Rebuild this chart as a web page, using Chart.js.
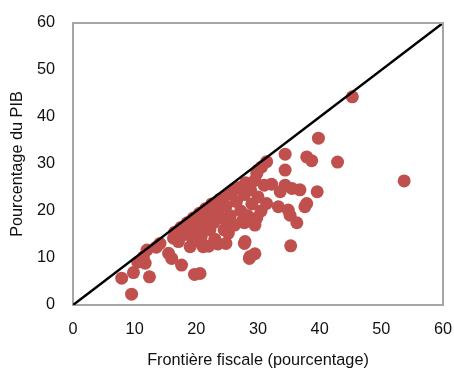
<!DOCTYPE html>
<html>
<head>
<meta charset="utf-8">
<script src="https://cdn.jsdelivr.net/npm/chart.js@4.4.1/dist/chart.umd.min.js"></script>
<style>
  html, body { margin: 0; padding: 0; background: #ffffff; }
  #wrap { width: 454px; height: 369px; position: relative; }
</style>
</head>
<body>
<div id="wrap"><canvas id="chart" width="454" height="369"></canvas></div>
<script>
// Fiscal frontier (x) against revenue collected (y), both in percent of GDP
const frontierX = [
  45.3, 53.7, 42.9, 39.8, 39.6, 37.9, 38.7, 34.4, 34.4, 32.2,
  34.4, 35.5, 36.8, 33.6, 31.4, 33.3, 34.9, 37.9, 37.6, 35.2,
  36.3, 29.5, 27.8, 25.2, 25.2, 24.8, 27.8, 35.3, 29.5, 28.6,
  20.6, 21.1, 22.2, 31.4, 30.6, 30.0, 9.5, 7.9, 9.8, 12.4,
  11.7, 12.0, 14.1, 16.3, 17.1, 15.5, 16.0, 17.6, 19.7, 19.0,
  21.1, 20.1, 27.4, 27.9, 28.7, 11.4, 10.5, 13.5,
  16.5, 17.5, 18.2, 18.5, 19.0, 19.5, 20.0, 20.5, 20.8, 21.0,
  21.5, 21.8, 22.0, 22.5, 22.8, 23.0, 23.5, 23.8, 24.0, 24.5,
  24.8, 25.0, 25.5, 26.0, 26.2, 26.5, 27.0, 27.2, 27.8, 28.0,
  28.3, 28.8, 29.0, 29.5, 30.0, 30.5, 31.0, 29.8, 23.5, 22.0,
  19.5, 29.8
];
const revenueY = [
  44.3, 26.4, 30.4, 35.5, 24.1, 31.5, 30.7, 32.1, 28.7, 25.7,
  25.5, 24.8, 24.5, 24.1, 21.6, 20.9, 20.2, 21.6, 20.9, 19.1,
  17.5, 17.0, 17.5, 16.7, 15.3, 13.1, 13.1, 12.6, 10.9, 9.9,
  6.7, 12.4, 16.0, 30.5, 29.4, 28.7, 2.3, 5.7, 6.9, 6.0,
  8.9, 11.7, 13.1, 14.2, 13.5, 11.0, 9.9, 8.5, 6.5, 12.4,
  12.8, 15.3, 17.7, 13.5, 10.3, 10.2, 9.1, 12.3,
  15.5, 16.5, 15.0, 17.5, 16.0, 18.5, 17.0, 19.5, 14.5, 18.0,
  20.5, 16.5, 19.0, 21.5, 17.5, 14.0, 20.0, 22.5, 18.5, 16.0,
  21.0, 23.5, 19.0, 24.5, 17.0, 22.0, 25.0, 20.0, 23.5, 26.0,
  19.0, 24.5, 21.5, 26.5, 23.0, 20.0, 25.5, 18.5, 13.0, 12.5,
  13.5, 28.0
];
// 45-degree reference line
const diagX = [0, 60];
const diagY = [0, 60];
const axisTicks = [0, 10, 20, 30, 40, 50, 60];

const scatterData = frontierX.map((x, i) => ({ x: x, y: revenueY[i] }));
const diagData = diagX.map((x, i) => ({ x: x, y: diagY[i] }));

const PAD = { left: 0, right: 11, top: 23, bottom: 0 };
const FAMILY = "'Liberation Sans', Arial, sans-serif";
const tickFont = { family: FAMILY, size: 16.3, lineHeight: 1 };
const INK = '#111111';
const FRAME = '#a6a6a6';

new Chart(document.getElementById('chart'), {
  type: 'scatter',
  data: {
    datasets: [
      {
        data: diagData,
        type: 'line',
        borderColor: '#000000',
        borderWidth: 2.5,
        pointRadius: 0,
        fill: false,
        order: 0
      },
      {
        data: scatterData,
        backgroundColor: '#C0504D',
        borderWidth: 0,
        pointRadius: 6.5,
        pointHoverRadius: 6.5,
        order: 1
      }
    ]
  },
  options: {
    responsive: false,
    animation: false,
    events: [],
    layout: { padding: PAD },
    plugins: { legend: { display: false }, tooltip: { enabled: false } },
    scales: {
      x: {
        type: 'linear',
        min: 0, max: 60,
        afterBuildTicks: s => { s.ticks = axisTicks.map(v => ({ value: v })); },
        afterFit: s => {
          s.height = 369 - 305 - PAD.bottom;
          s.paddingLeft = 0; s.paddingRight = 0;
        },
        grid: { display: false, drawTicks: false },
        border: { display: true, color: FRAME, width: 2 },
        ticks: { color: INK, font: tickFont, padding: 16, maxRotation: 0 },
        title: {
          display: true,
          text: 'Frontière fiscale (pourcentage)',
          color: INK,
          font: tickFont,
          padding: { top: 0, bottom: 0 }
        }
      },
      y: {
        type: 'linear',
        min: 0, max: 60,
        afterBuildTicks: s => { s.ticks = axisTicks.map(v => ({ value: v })); },
        afterFit: s => {
          s.width = 73 - PAD.left;
          s.paddingTop = 0; s.paddingBottom = 0;
        },
        grid: { display: false, drawTicks: false },
        border: { display: true, color: FRAME, width: 2 },
        ticks: { color: INK, font: tickFont, padding: 18 },
        title: {
          display: true,
          text: 'Pourcentage du PIB',
          color: INK,
          font: tickFont,
          padding: { top: 9, bottom: 0 }
        }
      }
    }
  },
  plugins: [{
    // right and top edges of the plot frame
    id: 'frame',
    afterDraw(chart) {
      const { ctx, chartArea: a } = chart;
      ctx.save();
      ctx.strokeStyle = FRAME;
      ctx.lineWidth = 2;
      ctx.beginPath();
      ctx.moveTo(a.left, a.top);
      ctx.lineTo(a.right, a.top);
      ctx.lineTo(a.right, a.bottom);
      ctx.stroke();
      ctx.restore();
    }
  }]
});
</script>
</body>
</html>
